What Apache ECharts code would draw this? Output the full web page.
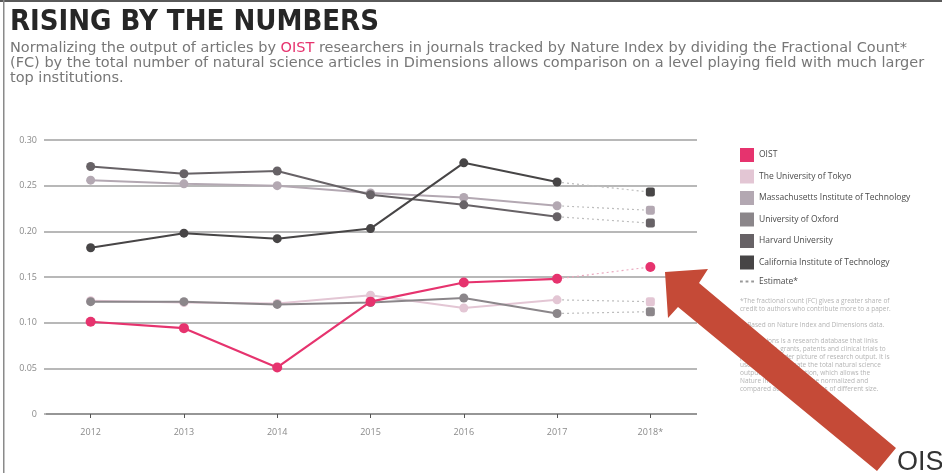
<!DOCTYPE html>
<html>
<head>
<meta charset="utf-8">
<script src="https://cdn.jsdelivr.net/npm/echarts@6/dist/echarts.min.js"></script>
<style>
html,body{margin:0;padding:0;background:#fff;}
#chart{width:942px;height:473px;}
</style>
</head>
<body>
<div id="chart"></div>
<script>
var years = ['2012','2013','2014','2015','2016','2017','2018*'];
var yTicks = [0, 0.05, 0.10, 0.15, 0.20, 0.25, 0.30];

var oist    = [0.101, 0.094, 0.051, 0.123, 0.144, 0.148, 0.161];
var tokyo   = [0.124, 0.122, 0.121, 0.130, 0.116, 0.125, 0.123];
var mit     = [0.256, 0.252, 0.250, 0.242, 0.237, 0.228, 0.223];
var oxford  = [0.123, 0.123, 0.120, 0.122, 0.127, 0.110, 0.112];
var harvard = [0.271, 0.263, 0.266, 0.240, 0.229, 0.216, 0.209];
var caltech = [0.182, 0.198, 0.192, 0.203, 0.275, 0.254, 0.243];

var names = ['OIST','The University of Tokyo','Massachusetts Institute of Technology','University of Oxford','Harvard University','California Institute of Technology'];
var valuesList = [oist, tokyo, mit, oxford, harvard, caltech];
var colors = ['#e6336e','#e3c6d4','#b3a8b2','#8b868a','#676266','#474546'];

var series = [];
valuesList.forEach(function(vals, k){
  var isOist = k === 0;
  series.push({
    name: names[k], type: 'line', z: isOist ? 10 : 3 + k,
    data: vals.map(function(v, i){ return i <= 5 ? v : null; }),
    symbol: 'circle', symbolSize: isOist ? 10 : 9,
    lineStyle: {color: colors[k], width: isOist ? 2.2 : 2},
    itemStyle: {color: colors[k]},
    emphasis: {disabled: true}, animation: false
  });
  series.push({
    name: names[k] + ' est', type: 'line', z: isOist ? 10 : 3 + k,
    data: vals.map(function(v, i){
      if (i < 5) return null;
      if (i === 5) return {value: v, symbol: 'none'};
      return v;
    }),
    symbol: isOist ? 'circle' : 'roundRect', symbolSize: isOist ? 10 : 9,
    lineStyle: {color: isOist ? '#e9a7bd' : '#bdbdbd', width: 1.2, type: [2, 3]},
    itemStyle: {color: colors[k]},
    emphasis: {disabled: true}, animation: false
  });
});
series.push({
  name: 'Estimate*', type: 'line', data: [],
  itemStyle: {color: '#999'}, lineStyle: {color: '#999', type: [2,3]}
});

var legendData = names.map(function(n){ return {name: n, icon: 'rect'}; });
legendData.push({name: 'Estimate*', icon: 'path://M0,6 h3 v2 h-3 z M6,6 h3 v2 h-3 z M12,6 h3 v2 h-3 z', itemStyle: {color: '#999'}});

var chart = echarts.init(document.getElementById('chart'), null, {renderer: 'canvas'});
chart.setOption({
  backgroundColor: '#fff',
  animation: false,
  grid: {left: 44, right: 245, top: 140, bottom: 59, containLabel: false},
  xAxis: {
    type: 'category', data: years, boundaryGap: true,
    axisLine: {show: false},
    axisTick: {show: true, alignWithLabel: true, length: 4, lineStyle: {color: '#555', width: 1}},
    axisLabel: {color: '#8a8a8a', fontSize: 9, margin: 14, fontFamily: 'Open Sans'},
    splitLine: {show: false}
  },
  yAxis: {
    type: 'value', min: 0, max: 0.30, interval: 0.05,
    axisLine: {show: false}, axisTick: {show: false},
    axisLabel: {color: '#8a8a8a', fontSize: 9, margin: 7, fontFamily: 'Open Sans',
      formatter: function(v){ return v === 0 ? '0' : v.toFixed(2); }},
    splitLine: {lineStyle: {color: '#a0a0a0', width: 1.5}}
  },
  legend: {
    orient: 'vertical', left: 735, top: 143,
    itemWidth: 14, itemHeight: 14, itemGap: 7.5,
    data: legendData,
    selectedMode: false,
    textStyle: {color: '#4a4a4a', fontSize: 8.5, fontFamily: 'Open Sans'}
  },
  series: series,
  graphic: [
    {type: 'rect', left: 0, top: 0, shape: {width: 942, height: 2}, style: {fill: '#5a5a5a'}, silent: true},
    {type: 'rect', left: 3, top: 0, shape: {width: 1.5, height: 473}, style: {fill: '#8a8a8a'}, silent: true},
    {type: 'text', left: 10, top: 8, style: {text: 'RISING BY THE NUMBERS', fill: '#262626',
      font: 'bold 29px "DejaVu Sans Condensed", "DejaVu Sans"'}},
    {type: 'text', left: 10, top: 41, style: {
      text: '{a|Normalizing the output of articles by }{o|OIST}{a| researchers in journals tracked by Nature Index by dividing the Fractional Count*}\n{a|(FC) by the total number of natural science articles in Dimensions allows comparison on a level playing field with much larger}\n{a|top institutions.}',
      rich: {
        a: {fill: '#777777', fontSize: 14.5, fontFamily: 'DejaVu Sans', lineHeight: 15},
        o: {fill: '#e6336e', fontSize: 14.5, fontFamily: 'DejaVu Sans', lineHeight: 15}
      }
    }},
    {type: 'line', shape: {x1: 46, y1: 414, x2: 697, y2: 414}, style: {stroke: '#4a4a4a', lineWidth: 1.6}, silent: true},
    {type: 'text', left: 740, top: 297, style: {
      text: '*The fractional count (FC) gives a greater share of\ncredit to authors who contribute more to a paper.\n\n**Based on Nature Index and Dimensions data.\n\n†Dimensions is a research database that links\npublications, grants, patents and clinical trials to\nprovide a broader picture of research output. It is\nused here to estimate the total natural science\noutput of each institution, which allows the\nNature Index output to be normalized and\ncompared across institutions of different size.',
      fill: '#b4b4b4', fontSize: 6.5, fontFamily: 'Open Sans', lineHeight: 8
    }, silent: true},
    {type: 'polygon', shape: {points: [[665,272],[708,269],[699,283],[896,448],[877,471],[678,307],[668,318]]},
      style: {fill: '#c54a37'}, silent: true, z: 100},
    {type: 'text', left: 897, top: 449, style: {text: 'OIST', fill: '#333', font: '27px "Liberation Sans", Arial'}, silent: true, z: 100}
  ]
});
</script>
</body>
</html>
